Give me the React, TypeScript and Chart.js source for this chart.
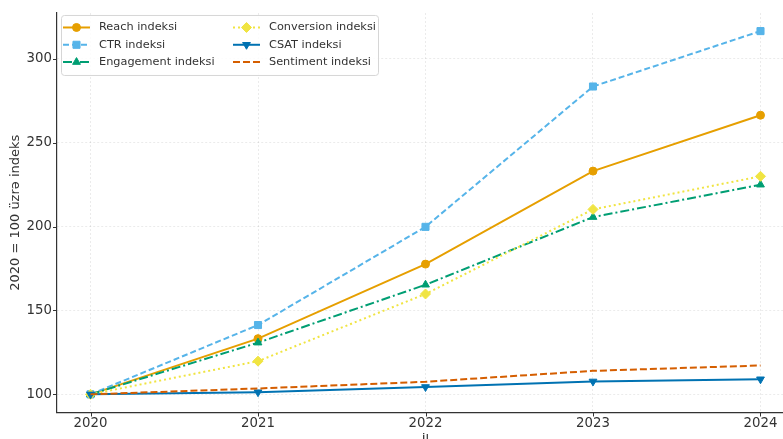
import React, { useEffect, useRef } from 'react';
import { Chart, registerables } from 'chart.js';
import { drawPoint } from 'chart.js/helpers';

Chart.register(...registerables);

// ---- data ----
const years = [2020, 2021, 2022, 2023, 2024];
const reach = [100, 133.2, 177.6, 233.0, 266.3];
const ctr = [100, 141.3, 199.8, 283.4, 316.4];
const engagement = [100, 130.8, 165.3, 205.6, 224.9];
const conversion = [100, 119.8, 159.8, 210.2, 229.9];
const csat = [100, 101.3, 104.4, 107.7, 109.0];
const sentiment = [100, 103.5, 107.5, 114.0, 117.2];
const seriesNames = [
  'Reach indeksi',
  'CTR indeksi',
  'Engagement indeksi',
  'Conversion indeksi',
  'CSAT indeksi',
  'Sentiment indeksi',
];
const seriesValues = [reach, ctr, engagement, conversion, csat, sentiment];
const yTicks = [100, 150, 200, 250, 300];
const xTitle = 'İl';
const yTitle = '2020 = 100 üzrə indeks';

// ---- styles ----
const FAMILY = '"DejaVu Sans", Verdana, sans-serif';
const styles = [
  { color: '#E69F00', dash: [] as number[], point: 'circle', radius: 4, rotation: 0 },
  { color: '#56B4E9', dash: [6, 3], point: 'rect', radius: 5, rotation: 0 },
  { color: '#009E73', dash: [9, 3, 2, 3], point: 'triangle', radius: 4.5, rotation: 0 },
  { color: '#F0E442', dash: [2, 3], point: 'rectRot', radius: 5, rotation: 0 },
  { color: '#0072B2', dash: [] as number[], point: 'triangle', radius: 4.5, rotation: 180 },
  { color: '#D55E00', dash: [7, 3], point: false as any, radius: 0, rotation: 0 },
];

const tickMarksPlugin = {
  id: 'tickMarks',
  afterDraw(chart: any) {
    const { ctx, scales, chartArea } = chart;
    ctx.save();
    ctx.strokeStyle = '#333';
    ctx.lineWidth = 1;
    ctx.setLineDash([]);
    ctx.beginPath();
    for (const t of scales.x.ticks) {
      const px = Math.round(scales.x.getPixelForValue(t.value)) + 0.5;
      ctx.moveTo(px, chartArea.bottom);
      ctx.lineTo(px, chartArea.bottom + 4);
    }
    for (const t of scales.y.ticks) {
      const py = Math.round(scales.y.getPixelForValue(t.value)) + 0.5;
      ctx.moveTo(chartArea.left - 4, py);
      ctx.lineTo(chartArea.left, py);
    }
    ctx.stroke();
    ctx.restore();
  },
};

const legendPlugin = {
  id: 'twoColLegend',
  afterDraw(chart: any) {
    const { ctx, chartArea } = chart;
    const bx = chartArea.left + 4;
    const by = chartArea.top + 2;
    const bw = 317;
    const bh = 60;
    ctx.save();
    ctx.beginPath();
    ctx.roundRect(bx + 0.5, by + 0.5, bw, bh, 3);
    ctx.fillStyle = 'rgba(255,255,255,0.85)';
    ctx.fill();
    ctx.strokeStyle = '#d6d6d6';
    ctx.lineWidth = 1;
    ctx.stroke();
    ctx.font = `11.3px ${FAMILY}`;
    ctx.textBaseline = 'middle';
    ctx.textAlign = 'left';
    seriesNames.forEach((name, i) => {
      const st = styles[i];
      const col = Math.floor(i / 3);
      const row = i % 3;
      const x0 = bx + (col === 0 ? 2 : 172);
      const y = by + 12.5 + row * 17.3;
      ctx.save();
      ctx.strokeStyle = st.color;
      ctx.lineWidth = 2;
      ctx.setLineDash(st.dash);
      ctx.beginPath();
      ctx.moveTo(x0, y);
      ctx.lineTo(x0 + 27, y);
      ctx.stroke();
      ctx.setLineDash([]);
      if (st.point) {
        ctx.fillStyle = st.color;
        ctx.strokeStyle = st.color;
        ctx.lineWidth = 1;
        drawPoint(ctx, { pointStyle: st.point, radius: st.radius, rotation: st.rotation, borderWidth: 1 } as any, x0 + 13.5, y);
      }
      ctx.restore();
      ctx.fillStyle = '#333';
      ctx.fillText(name, x0 + 36, y);
    });
    ctx.restore();
  },
};

export default function App() {
  const ref = useRef<HTMLCanvasElement | null>(null);

  useEffect(() => {
    if (!ref.current) return;
    const datasets = seriesNames.map((name, i) => {
      const st = styles[i];
      return {
        label: name,
        data: years.map((x, j) => ({ x, y: seriesValues[i][j] })),
        borderColor: st.color,
        backgroundColor: st.color,
        borderWidth: 2,
        borderDash: st.dash,
        pointStyle: st.point,
        pointRadius: st.radius,
        pointRotation: st.rotation,
        pointBorderWidth: 1,
        pointBackgroundColor: st.color,
        pointBorderColor: st.color,
        tension: 0,
        fill: false,
        order: seriesNames.length - i,
      };
    });

    const chart = new Chart(ref.current, {
      type: 'line',
      data: { datasets },
      options: {
        responsive: false,
        animation: false,
        events: [],
        layout: { padding: { left: 0, right: 5.5, top: 11, bottom: 0 } },
        plugins: {
          legend: { display: false },
          tooltip: { enabled: false },
        },
        scales: {
          x: {
            type: 'linear',
            min: 2019.8,
            max: 2024.2,
            afterBuildTicks: (s: any) => {
              s.ticks = years.map((v) => ({ value: v }));
            },
            afterFit: (s: any) => {
              s.height = 47.5;
            },
            grid: { color: 'rgba(0,0,0,0.1)', lineWidth: 0.8, drawTicks: false },
            border: { display: true, color: '#333', width: 1.2, dash: [2, 2] },
            ticks: {
              padding: 3,
              color: '#333',
              font: { size: 13.3, family: FAMILY },
              callback: (v: any) => String(v),
              maxRotation: 0,
            },
            title: {
              display: true,
              text: xTitle,
              color: '#333',
              font: { size: 13, family: FAMILY },
              padding: { top: 0, bottom: 12 },
            },
          },
          y: {
            type: 'linear',
            min: 89.2,
            max: 327.2,
            afterBuildTicks: (s: any) => {
              s.ticks = yTicks.map((v) => ({ value: v }));
            },
            afterFit: (s: any) => {
              s.width = 57;
            },
            grid: { color: 'rgba(0,0,0,0.1)', lineWidth: 0.8, drawTicks: false },
            border: { display: true, color: '#333', width: 1.2, dash: [2, 2] },
            ticks: {
              padding: 5,
              color: '#333',
              font: { size: 13.3, family: FAMILY },
              callback: (v: any) => String(v),
            },
            title: {
              display: true,
              text: yTitle,
              color: '#333',
              font: { size: 13, family: FAMILY },
              padding: { top: 8, bottom: 0 },
            },
          },
        },
      },
      plugins: [tickMarksPlugin, legendPlugin],
    } as any);

    return () => chart.destroy();
  }, []);

  return (
    <div
      style={{
        position: 'fixed',
        left: 0,
        top: 0,
        width: 783,
        height: 439,
        overflow: 'hidden',
        background: '#fff',
      }}
    >
      <canvas ref={ref} width={800} height={460} style={{ display: 'block', width: 800, height: 460 }} />
    </div>
  );
}
